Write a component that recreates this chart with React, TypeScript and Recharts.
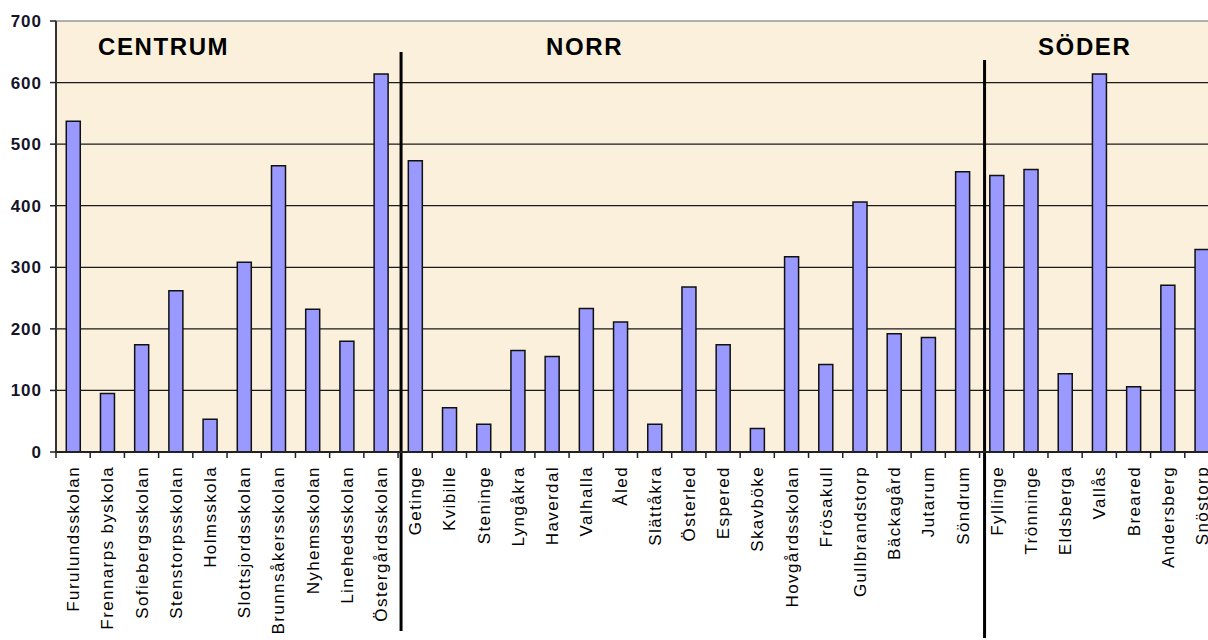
import { BarChart, Bar, XAxis, YAxis, CartesianGrid, ReferenceLine } from 'recharts'

// skolor per område, i ordning som i diagrammet
const centrum = [
  'Furulundsskolan', 'Frennarps byskola', 'Sofiebergsskolan', 'Stenstorpsskolan', 'Holmsskola',
  'Slottsjordsskolan', 'Brunnsåkersskolan', 'Nyhemsskolan', 'Linehedsskolan', 'Östergårdsskolan',
]
const centrumValues = [537, 95, 174, 262, 53, 308, 465, 232, 180, 614]

const norr = [
  'Getinge', 'Kvibille', 'Steninge', 'Lyngåkra', 'Haverdal', 'Valhalla', 'Åled', 'Slättåkra',
  'Österled', 'Espered', 'Skavböke', 'Hovgårdsskolan', 'Frösakull', 'Gullbrandstorp',
  'Bäckagård', 'Jutarum', 'Söndrum',
]
const norrValues = [473, 72, 45, 165, 155, 233, 211, 45, 268, 174, 38, 317, 142, 406, 192, 186, 455]

const soder = ['Fyllinge', 'Trönninge', 'Eldsberga', 'Vallås', 'Breared', 'Andersberg', 'Snöstorp']
const soderValues = [449, 459, 127, 614, 106, 271, 329]

const yTicks = [0, 100, 200, 300, 400, 500, 600, 700]
const gridValues = [100, 200, 300, 400, 500, 600]

const areas = [
  { name: 'CENTRUM', first: centrum[0] },
  { name: 'NORR', first: norr[0] },
  { name: 'SÖDER', first: soder[0] },
]

const data = [
  ...centrum.map((name, i) => ({ name, value: centrumValues[i] })),
  ...norr.map((name, i) => ({ name, value: norrValues[i] })),
  ...soder.map((name, i) => ({ name, value: soderValues[i] })),
]

const FONT = '"Liberation Sans", Arial, sans-serif'

function SchoolTick({ x, y, payload, index, visibleTicksCount }: any) {
  const half = payload?.offset ?? 17
  const last = index === (visibleTicksCount ?? data.length) - 1
  const ty = y + 14
  return (
    <g>
      <line x1={x - half} x2={x - half} y1={y} y2={y + 6} stroke="#222" strokeWidth={1.5} />
      {last && <line x1={x + half} x2={x + half} y1={y} y2={y + 6} stroke="#222" strokeWidth={1.5} />}
      <text
        x={x}
        y={ty}
        dy="0.36em"
        transform={`rotate(-90, ${x}, ${ty})`}
        textAnchor="end"
        fontSize={17}
        letterSpacing={1.4}
        fontFamily={FONT}
        fill="#000"
      >
        {payload.value}
      </text>
    </g>
  )
}

function Divider({ x1, y1, y2, dx, top, bottom }: any) {
  const yTop = Math.min(y1, y2)
  const yBot = Math.max(y1, y2)
  return <line x1={x1 + dx} x2={x1 + dx} y1={yTop + top} y2={yBot + bottom} stroke="#000" strokeWidth={3} />
}

export default function App() {
  return (
    <div style={{ position: 'absolute', left: 0, top: 0, width: 1208, height: 640, overflow: 'hidden', background: '#fff' }}>
      <BarChart
        width={1232}
        height={640}
        data={data}
        margin={{ top: 21, right: 13, left: 0, bottom: 0 }}
        barCategoryGap="30%"
      >
        <CartesianGrid vertical={false} horizontalValues={gridValues} stroke="#1a1a1a" strokeWidth={1.2} fill="#FBF0DC" />
        <ReferenceLine y={700} stroke="#999" strokeWidth={1.5} />
        <XAxis
          dataKey="name"
          type="category"
          interval={0}
          height={188}
          tickSize={0}
          tickMargin={0}
          tickLine={false}
          axisLine={{ stroke: '#222', strokeWidth: 2 }}
          tick={<SchoolTick />}
        />
        <YAxis
          width={56}
          domain={[0, 700]}
          ticks={yTicks}
          interval={0}
          tickSize={6}
          tickMargin={8}
          axisLine={{ stroke: '#333', strokeWidth: 2 }}
          tickLine={{ stroke: '#222', strokeWidth: 1.5 }}
          tick={{ fontSize: 17, fontWeight: 'bold', fill: '#14142a', fontFamily: FONT, letterSpacing: 1 }}
        />
        <Bar dataKey="value" fill="#9999FF" stroke="#111" strokeWidth={1.5} isAnimationActive={false} />
        <ReferenceLine
          x={areas[1].first}
          position="start"
          ifOverflow="visible"
          shape={(p: any) => <Divider {...p} dx={3} top={31} bottom={179} />}
        />
        <ReferenceLine
          x={areas[2].first}
          position="start"
          ifOverflow="visible"
          shape={(p: any) => <Divider {...p} dx={5} top={39} bottom={186} />}
        />
      </BarChart>
      <svg width={1208} height={640} style={{ position: 'absolute', left: 0, top: 0, pointerEvents: 'none' }}>
        <text x={98} y={55} fontSize={24} fontWeight="bold" letterSpacing={1.6} fontFamily={FONT} fill="#000">{areas[0].name}</text>
        <text x={546} y={55} fontSize={24} fontWeight="bold" letterSpacing={1.6} fontFamily={FONT} fill="#000">{areas[1].name}</text>
        <text x={1038} y={55} fontSize={24} fontWeight="bold" letterSpacing={1.6} fontFamily={FONT} fill="#000">{areas[2].name}</text>
      </svg>
    </div>
  )
}
